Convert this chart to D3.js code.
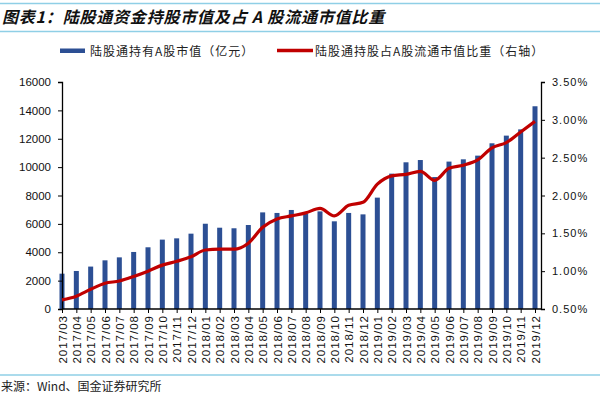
<!DOCTYPE html>
<html>
<head>
<meta charset="utf-8">
<script src="https://cdn.jsdelivr.net/npm/d3@7"></script>
<style>
  body { margin: 0; background: #fff; }
  svg { display: block; }
  text { font-family: "Liberation Sans", Arial, sans-serif; }
  .cjk { font-family: "Noto Sans CJK SC", sans-serif; }
</style>
</head>
<body>
<div id="chart"></div>
<script>
// months on the x axis
const months = ['2017/03','2017/04','2017/05','2017/06','2017/07','2017/08','2017/09','2017/10','2017/11','2017/12',
  '2018/01','2018/02','2018/03','2018/04','2018/05','2018/06','2018/07','2018/08','2018/09','2018/10','2018/11','2018/12',
  '2019/01','2019/02','2019/03','2019/04','2019/05','2019/06','2019/07','2019/08','2019/09','2019/10','2019/11','2019/12'];
// 陆股通持有A股市值（亿元）
const holdings = [2490, 2680, 2990, 3430, 3640, 4020, 4350, 4890, 4980, 5310,
  6010, 5730, 5690, 5920, 6810, 6770, 6980, 6720, 6880, 6180, 6770, 6670,
  7850, 9540, 10340, 10500, 9300, 10390, 10550, 10810, 11680, 12220, 12660, 14290];
// 占A股流通市值比重 (%)
const share = [0.62, 0.67, 0.76, 0.84, 0.87, 0.93, 1.00, 1.08, 1.13, 1.19,
  1.28, 1.29, 1.29, 1.37, 1.58, 1.69, 1.73, 1.77, 1.83, 1.73, 1.87, 1.91,
  2.15, 2.26, 2.28, 2.32, 2.20, 2.36, 2.40, 2.47, 2.63, 2.70, 2.84, 2.98];
const leftTicks = [0, 2000, 4000, 6000, 8000, 10000, 12000, 14000, 16000];
const rightTicks = [0.5, 1.0, 1.5, 2.0, 2.5, 3.0, 3.5];

const W = 600, H = 399;
const plotL = 62, plotR = 541, plotT = 82, plotB = 309;
const barColor = '#2c4f94', lineColor = '#c00000', rule = '#8fcfe6';

const svg = d3.select('#chart').append('svg').attr('width', W).attr('height', H);

// header / footer rules
svg.append('line').attr('x1', 0).attr('x2', W).attr('y1', 3.5).attr('y2', 3.5).attr('stroke', rule).attr('stroke-width', 1.5);
svg.append('line').attr('x1', 0).attr('x2', W).attr('y1', 31.5).attr('y2', 31.5).attr('stroke', rule).attr('stroke-width', 1.5);
svg.append('line').attr('x1', 0).attr('x2', W).attr('y1', 375).attr('y2', 375).attr('stroke', rule).attr('stroke-width', 1.5);

svg.append('text').attr('class', 'cjk').attr('x', 2).attr('y', 23)
  .style('font-size', '16px').style('font-weight', 'bold').style('font-style', 'italic')
  .style('letter-spacing', '0.8px')
  .attr('fill', '#111').text('图表1：陆股通资金持股市值及占 A 股流通市值比重');

svg.append('text').attr('class', 'cjk').attr('x', 1).attr('y', 391)
  .style('font-size', '12px').attr('fill', '#222').text('来源：Wind、国金证券研究所');

// legend
svg.append('rect').attr('x', 60).attr('y', 48.5).attr('width', 25).attr('height', 4.5).attr('fill', barColor);
svg.append('text').attr('class', 'cjk').attr('x', 90).attr('y', 55.5).style('font-size', '12px')
  .style('letter-spacing', '1px').attr('fill', '#222')
  .text('陆股通持有A股市值（亿元）');
svg.append('line').attr('x1', 277).attr('x2', 313).attr('y1', 50.5).attr('y2', 50.5).attr('stroke', lineColor).attr('stroke-width', 3.5);
svg.append('text').attr('class', 'cjk').attr('x', 315).attr('y', 55.5).style('font-size', '12px')
  .style('letter-spacing', '1px').attr('fill', '#222')
  .text('陆股通持股占A股流通市值比重（右轴）');

const x = d3.scalePoint().domain(months).range([62, 535]);
const yL = d3.scaleLinear().domain([0, 16000]).range([plotB, plotT]);
const yR = d3.scaleLinear().domain([0.5, 3.5]).range([plotB, plotT]);

// bars
const bw = 5;
svg.append('g').selectAll('rect').data(holdings).join('rect')
  .attr('x', (d, i) => x(months[i]) - bw / 2)
  .attr('y', d => yL(d))
  .attr('width', bw)
  .attr('height', d => plotB - yL(d))
  .attr('fill', barColor);

// axes
const gL = svg.append('g').attr('transform', `translate(${plotL},0)`)
  .call(d3.axisLeft(yL).tickValues(leftTicks).tickSize(4).tickPadding(7).tickFormat(d3.format('d')));
const gR = svg.append('g').attr('transform', `translate(${plotR},0)`)
  .call(d3.axisRight(yR).tickValues(rightTicks).tickSize(4).tickPadding(7).tickFormat(d => d.toFixed(2) + '%'));
const gX = svg.append('g').attr('transform', `translate(0,${plotB})`)
  .call(d3.axisBottom(x).tickSize(4).tickSizeOuter(0));

[gL, gR, gX].forEach(g => {
  g.select('.domain').attr('stroke', '#000').attr('stroke-width', 1.3);
  g.selectAll('.tick line').attr('stroke', '#000');
  g.selectAll('text').attr('fill', '#111').style('font-family', '"Liberation Sans", Arial, sans-serif');
});
gL.selectAll('text').style('font-size', '11.5px');
gR.selectAll('text').style('font-size', '11px').style('letter-spacing', '1px');
gX.select('.domain').attr('d', `M${plotL},0H${plotR}`);
gX.selectAll('text').style('font-size', '11.5px').style('letter-spacing', '1px')
  .attr('transform', 'rotate(-90)').attr('text-anchor', 'end')
  .attr('x', -6).attr('y', 0).attr('dy', '0.35em');

// share line
const line = d3.line()
  .x((d, i) => x(months[i]))
  .y(d => yR(d))
  .curve(d3.curveMonotoneX);
svg.append('path').datum(share).attr('d', line)
  .attr('fill', 'none').attr('stroke', lineColor).attr('stroke-width', 3.2)
  .attr('stroke-linejoin', 'round');
</script>
</body>
</html>
